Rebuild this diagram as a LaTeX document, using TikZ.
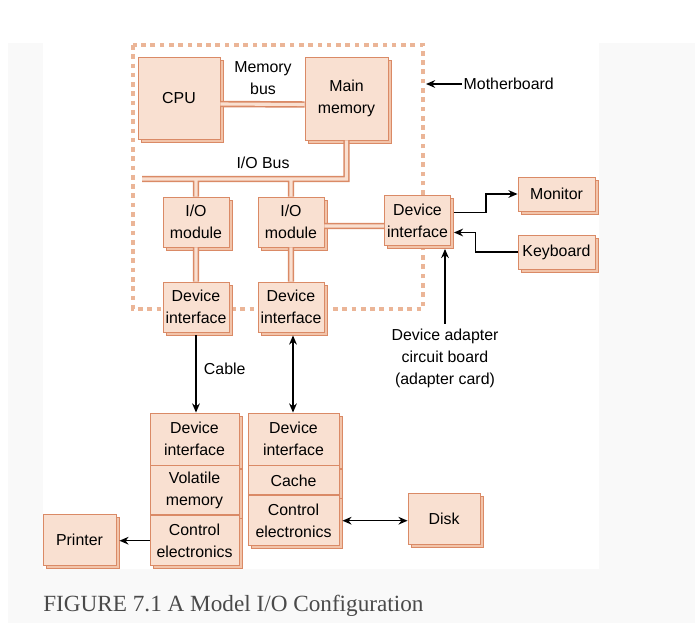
\documentclass[tikz,border=0pt]{standalone}
\usepackage{fontspec}
\setmainfont{Liberation Sans}
\newfontfamily\capfont{Liberation Serif}
\usetikzlibrary{positioning,calc,shadows,arrows.meta}

\definecolor{facec}{HTML}{F9E0D1}
\definecolor{edgec}{HTML}{DA8A66}
\definecolor{bevelc}{HTML}{F2C4AA}
\definecolor{dotc}{HTML}{EBB597}
\definecolor{panelc}{HTML}{F9F9F9}
\definecolor{capc}{HTML}{4A4A4A}

\tikzset{
  box/.style={draw=edgec, fill=facec, line width=0.6pt, inner sep=0pt, align=center,
    general shadow={shadow xshift=2.2pt, shadow yshift=-2.2pt, fill=bevelc, draw=edgec, line width=0.6pt}},
  pipeout/.style={draw=edgec, line width=4.6pt},
  pipein/.style={draw=facec, line width=2.2pt},
  arr/.style={-{Stealth[length=6.5pt,width=5.5pt]}, line width=1pt},
  arrboth/.style={{Stealth[length=6.5pt,width=5.5pt]}-{Stealth[length=6.5pt,width=5.5pt]}, line width=1pt},
}

% all bus pipes, drawn twice (edge, then fill)
\newcommand{\pipepaths}{
  ($(cpu.east)+(0,6)$) -- ($(mem.west)+(0,6)$)
  (busL) -| (mem.south)
  (mod1.north |- busL) -- (mod1.north)
  (mod2.north |- busL) -- (mod2.north)
  (mod1.south) -- (di1.north)
  (mod2.south) -- (di2.north)
  (lnk) -- (lnk -| dia.west)
}

\begin{document}
\begin{tikzpicture}[x=0.025cm, y=-0.025cm, font=\fontsize{11.3}{15.6}\selectfont]
  \useasboundingbox (0,0) rectangle (695,623);

  % page background
  \fill[panelc] (8,43) rectangle (695,623);
  \fill[white] (43,43) rectangle (599,569);

  % Motherboard outline
  \draw[dotc, line width=3.2pt, dash pattern=on 3.3pt off 3.3pt] (133,45) rectangle (423,309);

  % Motherboard boxes
  \node (cpu) [box, minimum width=2.05cm, minimum height=2.05cm] at (179,98) {CPU};
  \node (mem) [box, minimum width=2.075cm, minimum height=2.075cm] at (346.5,98.5) {Main\\memory};
  \node (mod1) [box, minimum width=1.65cm, minimum height=1.25cm] at (196,222) {I/O\\module};
  \node (mod2) [box, minimum width=1.65cm, minimum height=1.25cm] at (291,222) {I/O\\module};
  \node (di1) [box, minimum width=1.65cm, minimum height=1.25cm] at (196,307) {Device\\interface};
  \node (di2) [box, minimum width=1.65cm, minimum height=1.25cm] at (291,307) {Device\\interface};
  \node (dia) [box, minimum width=1.65cm, minimum height=1.25cm] at (417.5,220.5) {Device\\interface};

  % Outside devices
  \node (mon) [box, minimum width=1.925cm, minimum height=0.85cm] at (556.5,194) {Monitor};
  \node (kbd) [box, minimum width=1.925cm, minimum height=0.85cm] at (556.5,252) {Keyboard};
  \node (disk) [box, minimum width=1.8cm, minimum height=1.275cm] at (444,518.5) {Disk};
  \node (prn) [box, minimum width=1.825cm, minimum height=1.275cm] at (79.5,539.5) {Printer};

  % Printer controller
  \node (s1a) [box, minimum width=2.225cm, minimum height=1.3cm] at (194.5,439) {Device\\interface};
  \node (s1b) [box, minimum width=2.225cm, minimum height=1.225cm, below=0pt of s1a] {Volatile\\memory};
  \node (s1c) [box, minimum width=2.225cm, minimum height=1.25cm, below=0pt of s1b] {Control\\electronics};

  % Disk controller
  \node (s2a) [box, minimum width=2.275cm, minimum height=1.3cm] at (293.5,439) {Device\\interface};
  \node (s2b) [box, minimum width=2.275cm, minimum height=0.725cm, below=0pt of s2a] {Cache};
  \node (s2c) [box, minimum width=2.275cm, minimum height=1.25cm, below=0pt of s2b] {Control\\electronics};

  % Pipes
  \coordinate (busL) at (142,179);
  \coordinate (lnk) at ($(mod2.east)+(0,4)$);
  \draw[pipeout] \pipepaths;
  \draw[pipein] \pipepaths;

  % Labels
  \node (mbus) [align=center] at (263,78.5) {Memory\\bus};
  \node (iobus) at (263,163) {I/O Bus};
  \node (mbl) [anchor=west, inner sep=1pt] at (462,84) {Motherboard};
  \coordinate (mb) at (426,84);
  \node (adl) [align=center] at (445,358) {Device adapter\\circuit board\\(adapter card)};
  \node (cbl) [anchor=west] at (199,369) {Cable};

  % Arrows
  \draw[arr] (mbl.west) -- (mb);
  \draw[arr] ($(dia.east)+(3,-8)$) -- ++(32,0) |- (mon.west);
  \draw[arr] (kbd.west) -- ++(-42,0) |- ($(dia.east)+(3,12)$);
  \draw[arr] (adl.north) -- ($(adl.north |- dia.south)+(0,3)$);
  \draw[arr] ($(di1.south)+(0,3)$) -- (di1.south |- s1a.north);
  \draw[arrboth] ($(di2.south)+(2,3)$) -- ($(di2.south |- s2a.north)+(2,0)$);
  \draw[arrboth] ($(s2c.east)+(3,0)$) -- (s2c.east -| disk.west);
  \draw[arr] (s1c.west) -- ($(s1c.west -| prn.east)+(3,0)$);

  % Caption
  \node (cap) [anchor=base west, inner sep=0pt, text=capc, font=\capfont\fontsize{16.5}{20}\selectfont] at (43,611) {FIGURE 7.1 A Model I/O Configuration};
\end{tikzpicture}
\end{document}
